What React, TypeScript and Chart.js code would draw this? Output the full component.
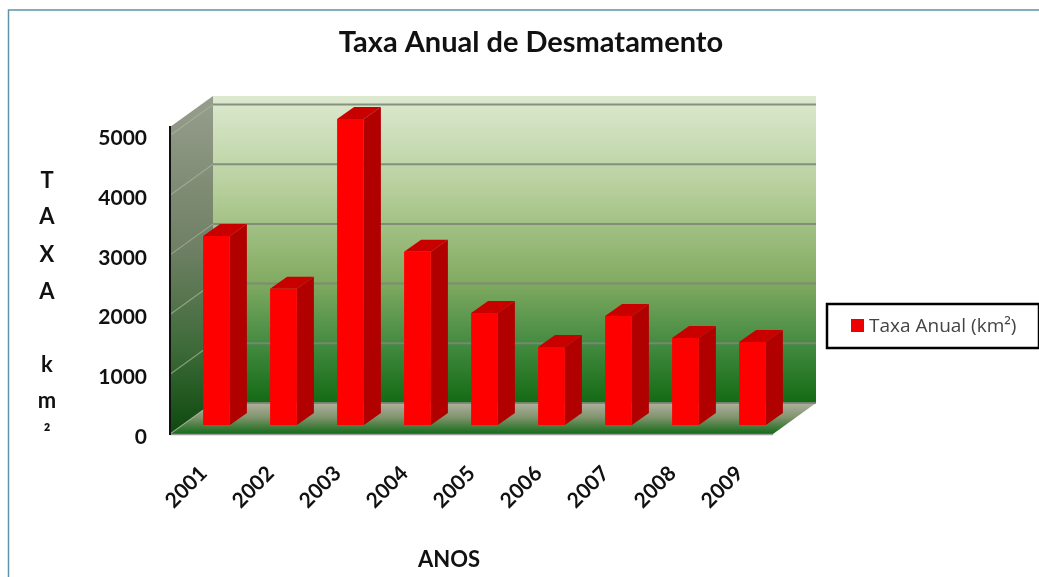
import React, { useEffect, useRef } from "react";
import { Chart, registerables } from "chart.js";

Chart.register(...registerables);

const years = ["2001", "2002", "2003", "2004", "2005", "2006", "2007", "2008", "2009"];
const taxaAnual = [3165, 2280, 5125, 2900, 1876, 1306, 1826, 1457, 1390];
const yTicks = [0, 1000, 2000, 3000, 4000, 5000];
const seriesLabel = "Taxa Anual (km²)";
const chartTitle = "Taxa Anual de Desmatamento";
const xAxisTitle = "ANOS";
const yAxisLetters = ["T", "A", "X", "A", "", "k", "m", "²"];
const yAxisLetterRows = [181, 217, 255, 292, 0, 365, 401, 434];

const FONT = "Lato, 'Open Sans', sans-serif";
const DEPTH_X = 43;
const DEPTH_Y = 31;
const BAR_SHIFT_X = 13;
const BAR_SHIFT_Y = -9;
const BAR_DEPTH_X = 17;
const BAR_DEPTH_Y = 12;
const Y_LABEL_NUDGE = 3;

function poly(ctx: CanvasRenderingContext2D, pts: number[][], fill: any) {
  ctx.beginPath();
  pts.forEach((p, i) => (i ? ctx.lineTo(p[0], p[1]) : ctx.moveTo(p[0], p[1])));
  ctx.closePath();
  ctx.fillStyle = fill;
  ctx.fill();
}

const scenePlugin = {
  id: "scene",
  beforeDraw(chart: any) {
    const { ctx, width, height } = chart;
    const { left: l, right: r, top: t, bottom: b } = chart.chartArea;
    ctx.save();
    ctx.fillStyle = "#ffffff";
    ctx.fillRect(0, 0, width, height);
    ctx.strokeStyle = "#5f93a8";
    ctx.lineWidth = 1.5;
    ctx.beginPath();
    ctx.moveTo(8.5, height);
    ctx.lineTo(8.5, 10);
    ctx.lineTo(width, 10);
    ctx.stroke();

    const bl = l + DEPTH_X, br = r + DEPTH_X, bt = t - DEPTH_Y, bb = b - DEPTH_Y;
    const back = ctx.createLinearGradient(0, bt, 0, bb);
    back.addColorStop(0, "#dde9d0");
    back.addColorStop(0.3, "#b7cf9c");
    back.addColorStop(0.6, "#83ab62");
    back.addColorStop(0.8, "#458c42");
    back.addColorStop(1, "#146a14");
    poly(ctx, [[bl, bt], [br, bt], [br, bb], [bl, bb]], back);

    const wall = ctx.createLinearGradient(0, bt, 0, b);
    wall.addColorStop(0, "#979e8d");
    wall.addColorStop(0.45, "#6f8064");
    wall.addColorStop(0.75, "#3d6a38");
    wall.addColorStop(1, "#0c4a0e");
    poly(ctx, [[l, t], [bl, bt], [bl, bb], [l, b]], wall);

    const floor = ctx.createLinearGradient(0, bb, 0, b);
    floor.addColorStop(0, "#aeb09c");
    floor.addColorStop(0.45, "#82956f");
    floor.addColorStop(1, "#146a18");
    poly(ctx, [[l, b], [bl, bb], [br, bb], [r, b]], floor);

    const y = chart.scales.y;
    y.ticks.forEach((tick: any) => {
      const py = y.getPixelForValue(tick.value);
      ctx.beginPath();
      ctx.moveTo(bl, py - DEPTH_Y);
      ctx.lineTo(br, py - DEPTH_Y);
      ctx.strokeStyle = "rgba(125,135,120,0.9)";
      ctx.lineWidth = 2;
      ctx.stroke();
      ctx.beginPath();
      ctx.moveTo(l, py);
      ctx.lineTo(bl, py - DEPTH_Y);
      ctx.strokeStyle = "rgba(170,180,160,0.7)";
      ctx.lineWidth = 1.2;
      ctx.stroke();
    });

    ctx.strokeStyle = "#9a9a9a";
    ctx.lineWidth = 1.5;
    ctx.beginPath();
    ctx.moveTo(l, b + 0.5);
    ctx.lineTo(r, b + 0.5);
    ctx.stroke();
    ctx.restore();
  },
  beforeDatasetDraw(chart: any, args: any) {
    const { ctx } = chart;
    ctx.save();
    ctx.translate(BAR_SHIFT_X, BAR_SHIFT_Y);
    args.meta.data.forEach((bar: any) => {
      const x1 = bar.x - bar.width / 2;
      const x2 = bar.x + bar.width / 2;
      poly(ctx, [[x2, bar.y], [x2 + BAR_DEPTH_X, bar.y - BAR_DEPTH_Y], [x2 + BAR_DEPTH_X, bar.base - BAR_DEPTH_Y], [x2, bar.base]], "#b00000");
      poly(ctx, [[x1, bar.y], [x1 + BAR_DEPTH_X, bar.y - BAR_DEPTH_Y], [x2 + BAR_DEPTH_X, bar.y - BAR_DEPTH_Y], [x2, bar.y]], "#c80000");
    });
  },
  afterDatasetDraw(chart: any) {
    chart.ctx.restore();
  },
  afterDraw(chart: any) {
    const { ctx } = chart;
    ctx.save();
    ctx.textBaseline = "middle";
    ctx.textAlign = "center";
    ctx.fillStyle = "#111111";
    ctx.font = `bold 29px ${FONT}`;
    ctx.fillText(chartTitle, 531, 43);
    ctx.font = `bold 22px ${FONT}`;
    ctx.fillText(xAxisTitle, 449, 560);
    yAxisLetters.forEach((ch, i) => {
      ctx.font = ch === "²" ? `bold 20px ${FONT}` : `bold 22px ${FONT}`;
      if (ch) ctx.fillText(ch, 47, yAxisLetterRows[i]);
    });

    ctx.fillStyle = "#ffffff";
    ctx.fillRect(827, 304, 212, 44);
    ctx.strokeStyle = "#000000";
    ctx.lineWidth = 2.5;
    ctx.strokeRect(827, 304, 212, 44);
    ctx.fillStyle = "#ee0000";
    ctx.fillRect(851, 319, 13, 13);
    ctx.fillStyle = "#444444";
    ctx.textAlign = "left";
    ctx.font = `19px 'Open Sans', sans-serif`;
    ctx.fillText(chart.data.datasets[0].label, 869, 327);
    ctx.restore();
  },
};

export default function App() {
  const ref = useRef<HTMLCanvasElement>(null);
  useEffect(() => {
    const chart = new Chart(ref.current as HTMLCanvasElement, {
      type: "bar",
      data: {
        labels: years,
        datasets: [
          {
            label: seriesLabel,
            data: taxaAnual,
            backgroundColor: "#ff0000",
            barPercentage: 0.4,
            categoryPercentage: 1,
            clip: false,
          } as any,
        ],
      },
      plugins: [scenePlugin],
      options: {
        responsive: false,
        animation: false,
        layout: { padding: { left: 0, top: 127, right: 266, bottom: 43 } },
        plugins: { legend: { display: false }, title: { display: false }, tooltip: { enabled: false } },
        scales: {
          x: {
            grid: { display: false },
            border: { display: false },
            ticks: {
              minRotation: 45,
              maxRotation: 45,
              padding: 19,
              color: "#111111",
              font: { family: FONT, size: 21, weight: "bold" },
            },
            afterFit: (s: any) => {
              s.height = 100;
            },
          },
          y: {
            min: 0,
            max: 5142,
            grid: { display: false, drawTicks: false },
            border: { display: true, color: "#111111", width: 2 },
            afterBuildTicks: (s: any) => {
              s.ticks = yTicks.map((value) => ({ value }));
            },
            ticks: {
              padding: 23,
              color: "#111111",
              font: { family: FONT, size: 21, weight: "bold" },
              callback: (v: any) => String(v),
            },
            afterFit: (s: any) => {
              s.width = 170;
              if (!s.__nudged) {
                s.__nudged = true;
                const drawLabels = s.drawLabels;
                s.drawLabels = function (area: any) {
                  this.ctx.save();
                  this.ctx.translate(0, Y_LABEL_NUDGE);
                  drawLabels.call(this, area);
                  this.ctx.restore();
                };
              }
            },
          },
        },
      } as any,
    });
    return () => chart.destroy();
  }, []);
  return (
    <canvas
      ref={ref}
      width={1039}
      height={577}
      style={{ position: "fixed", left: 0, top: 0, display: "block", width: 1039, height: 577 }}
    />
  );
}
